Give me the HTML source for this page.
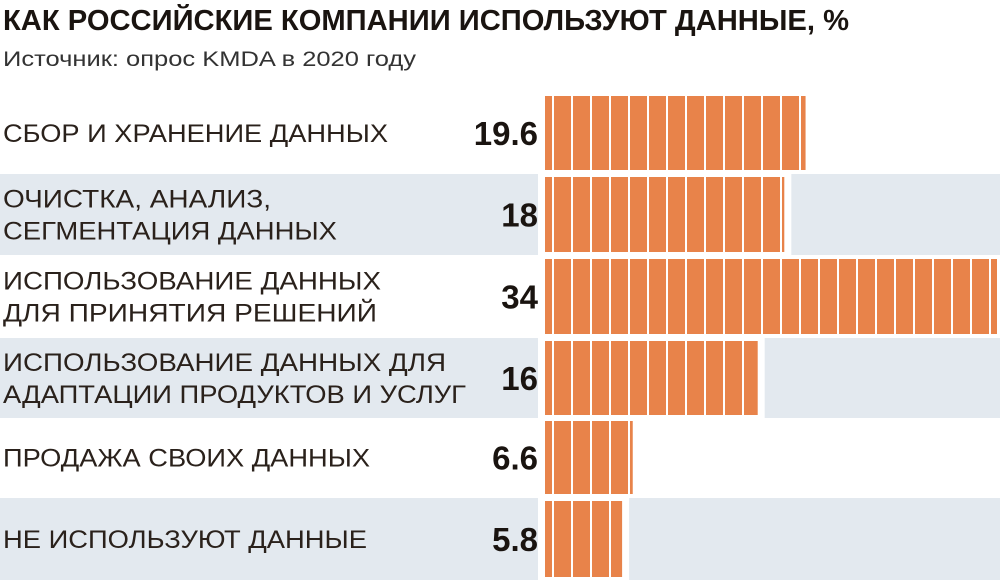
<!DOCTYPE html>
<html><head><meta charset="utf-8">
<style>html,body{margin:0;padding:0;background:#fff}svg{display:block}</style>
</head><body>
<svg id="chart" width="1000" height="581" viewBox="0 0 1000 581" xmlns="http://www.w3.org/2000/svg" font-family="'Liberation Sans','Noto Sans CJK SC',sans-serif">
<text x="3" y="30" font-size="29" font-weight="bold" fill="#1a1410" textLength="846" lengthAdjust="spacingAndGlyphs">КАК РОССИЙСКИЕ КОМПАНИИ ИСПОЛЬЗУЮТ ДАННЫЕ, %</text>
<text x="3" y="66" font-size="21" fill="#333" textLength="413" lengthAdjust="spacingAndGlyphs">Источник: опрос KMDA в 2020 году</text>
<g id="rows"></g>
</svg>
<script>
const categories = [
 ["СБОР И ХРАНЕНИЕ ДАННЫХ"],
 ["ОЧИСТКА, АНАЛИЗ,","СЕГМЕНТАЦИЯ ДАННЫХ"],
 ["ИСПОЛЬЗОВАНИЕ ДАННЫХ","ДЛЯ ПРИНЯТИЯ РЕШЕНИЙ"],
 ["ИСПОЛЬЗОВАНИЕ ДАННЫХ ДЛЯ","АДАПТАЦИИ ПРОДУКТОВ И УСЛУГ"],
 ["ПРОДАЖА СВОИХ ДАННЫХ"],
 ["НЕ ИСПОЛЬЗУЮТ ДАННЫЕ"]
];
const values = [19.6, 18, 34, 16, 6.6, 5.8];
const valueLabels = ["19.6","18","34","16","6.6","5.8"];

const NS="http://www.w3.org/2000/svg";
const g=document.getElementById('rows');
const x0=545, scale=(997-545)/34;
function xs(v){return x0+v*scale;}
const rowTop=[93,174,256,338,418,498], rowH=[80,81,81,80,79,82];
function mk(tag,attrs){const e=document.createElementNS(NS,tag);for(const k in attrs)e.setAttribute(k,attrs[k]);g.appendChild(e);return e;}
const labelW={"СБОР И ХРАНЕНИЕ ДАННЫХ":385,"ОЧИСТКА, АНАЛИЗ,":268,"СЕГМЕНТАЦИЯ ДАННЫХ":334,"ИСПОЛЬЗОВАНИЕ ДАННЫХ":378,"ДЛЯ ПРИНЯТИЯ РЕШЕНИЙ":374,"ИСПОЛЬЗОВАНИЕ ДАННЫХ ДЛЯ":443,"АДАПТАЦИИ ПРОДУКТОВ И УСЛУГ":463,"ПРОДАЖА СВОИХ ДАННЫХ":367,"НЕ ИСПОЛЬЗУЮТ ДАННЫЕ":364};
values.forEach((v,i)=>{
  const top=rowTop[i], h=rowH[i];
  if(i%2===1){
    const bg=mk('rect',{x:0,y:top,width:1000,height:h,fill:'#e3e9ef'});
    
    
  }
  const xe=xs(v);
  const gap=mk('rect',{x:538,y:top,width:xe-538+7,height:h,fill:'#fff'});
  
  
  const bar=mk('rect',{x:x0,y:top+3,width:xe-x0,height:h-6,fill:'#e8834a'});
  
  
  for(let sx=552; sx<xe-1; sx+=19){
    const ln=mk('rect',{x:sx,y:top+3,width:2,height:h-6,fill:'#fff'});
    
    
  }
  const lines=categories[i];
  const mid=top+h/2;
  lines.forEach((t,j)=>{
    const y = lines.length===1 ? mid+9 : mid-7+j*32;
    const tx=mk('text',{x:3,y:y,'font-size':25,fill:'#2a211b',textLength:labelW[t]||300,lengthAdjust:'spacingAndGlyphs'});
    tx.textContent=t;
    
    
  });
  const vl=mk('text',{x:538,y:mid+12,'font-size':33,'font-weight':'bold',fill:'#1a1410','text-anchor':'end'});
  vl.textContent=valueLabels[i];
  
  
});
</script>
</body></html>
